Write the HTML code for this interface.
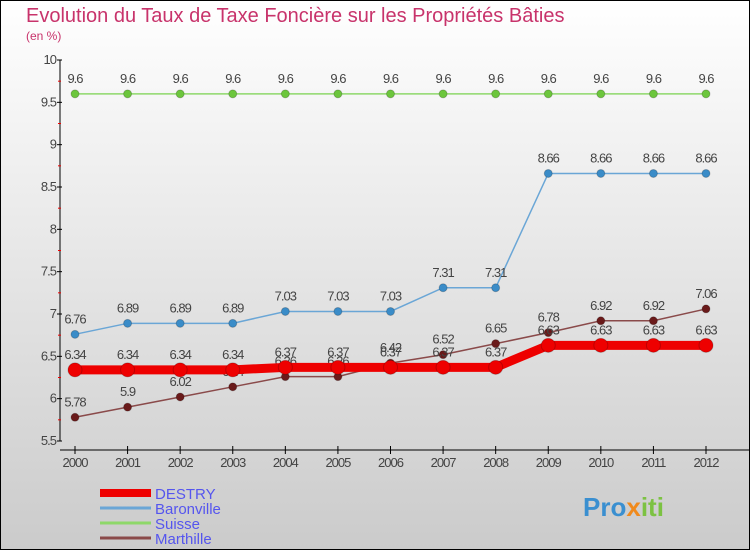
<!DOCTYPE html>
<html><head><meta charset="utf-8"><style>
body{margin:0}
#c{width:750px;height:550px;position:relative;overflow:hidden}
svg text{font-family:"Liberation Sans",sans-serif}
</style></head><body>
<div id="c">
<svg id="s" width="750" height="550" xmlns="http://www.w3.org/2000/svg">
<defs><linearGradient id="bg" x1="0" y1="0" x2="0" y2="1"><stop offset="0" stop-color="#ffffff"/><stop offset="1" stop-color="#cbcbcb"/></linearGradient></defs>
<rect x="0.5" y="0.5" width="749" height="549" fill="url(#bg)" stroke="#000"/>
<text x="26" y="22" font-size="20" fill="#c8336b">Evolution du Taux de Taxe Foncière sur les Propriétés Bâties</text>
<text x="26" y="40" font-size="12" fill="#c8336b">(en %)</text>
<g id="axes"></g><g id="series"></g><g id="legend"></g>
<text x="583" y="516" font-size="26" font-weight="bold" fill="#3a8fd0">Pro<tspan fill="#f08a1c">x</tspan><tspan fill="#7cc242">iti</tspan></text>
</svg></div>
<script>
const years=["2000","2001","2002","2003","2004","2005","2006","2007","2008","2009","2010","2011","2012"];
const destry=[6.34,6.34,6.34,6.34,6.37,6.37,6.37,6.37,6.37,6.63,6.63,6.63,6.63];
const baronville=[6.76,6.89,6.89,6.89,7.03,7.03,7.03,7.31,7.31,8.66,8.66,8.66,8.66];
const suisse=[9.6,9.6,9.6,9.6,9.6,9.6,9.6,9.6,9.6,9.6,9.6,9.6,9.6];
const marthille=[5.78,5.9,6.02,6.14,6.26,6.26,6.42,6.52,6.65,6.78,6.92,6.92,7.06];
const yTicks=[5.5,6,6.5,7,7.5,8,8.5,9,9.5,10];
const NS="http://www.w3.org/2000/svg";
function X(i){return 75+i*(706-75)/(years.length-1);}
function Y(v){return 441-(v-5.5)*(441-60)/4.5;}
function mk(t,a,p){const e=document.createElementNS(NS,t);for(const k in a)e.setAttribute(k,a[k]);p.appendChild(e);return e;}
const ax=document.getElementById('axes');
let l=mk('line',{x1:60,y1:60,x2:60,y2:441,stroke:'#000','stroke-width':1},ax);


l=mk('line',{x1:60,y1:450,x2:750,y2:450,stroke:'#000','stroke-width':1},ax);


yTicks.forEach((v,i)=>{
 mk('line',{x1:57,y1:Y(v),x2:62,y2:Y(v),stroke:'#000'},ax);
 if(i<yTicks.length-1)mk('line',{x1:58,y1:Y(v+0.25),x2:61,y2:Y(v+0.25),stroke:'#e00'},ax);
 const t=mk('text',{x:56,y:Y(v)+4,'font-size':13,fill:'#444','text-anchor':'end','letter-spacing':'-1'},ax);
 t.textContent=String(v);
 
 
});
years.forEach((y,i)=>{
 mk('line',{x1:X(i),y1:446,x2:X(i),y2:454,stroke:'#000'},ax);
 const t=mk('text',{x:X(i),y:467,'font-size':13,fill:'#444','text-anchor':'middle','letter-spacing':'-1'},ax);
 t.textContent=y;
 
 
});
const sg=document.getElementById('series');
function draw(vals,color,lw,r,fill,name){
 const g=mk('g',{},sg);
 
 
 mk('polyline',{points:vals.map((v,i)=>X(i)+','+Y(v)).join(' '),fill:'none',stroke:color,'stroke-width':lw},g);
 vals.forEach((v,i)=>{
  const c=mk('circle',{cx:X(i),cy:Y(v),r:r,fill:fill,stroke:'#0003'},g);
  
  
  const t=mk('text',{x:X(i),y:Y(v)-11,'font-size':13,fill:'#444','text-anchor':'middle','letter-spacing':'-1'},g);
  t.textContent=String(v);
  
  
 });
}
draw(suisse,'#8ed86a',1.5,4,'#6cc63c','suisse');
draw(baronville,'#6aa6d6',1.5,4,'#3a8cc8','baronville');
draw(marthille,'#8a4a4a',1.5,4,'#6a1a1a','marthille');
draw(destry,'#ee0000',9,7,'#ee0000','destry');
const lg=document.getElementById('legend');
const lgNames=["DESTRY","Baronville","Suisse","Marthille"];
const lgCol=['#ee0000','#6aa6d6','#8ed86a','#8a4a4a'];
const lgW=[8,3,3,3];
lgNames.forEach((n,i)=>{
 const y=493+i*15;
 const g=mk('g',{},lg);
 
 
 mk('line',{x1:100,y1:y,x2:151,y2:y,stroke:lgCol[i],'stroke-width':lgW[i]},g);
 const t=mk('text',{x:155,y:y+6,'font-size':15,fill:'#5555ee'},g);
 t.textContent=n;
});
</script></body></html>
